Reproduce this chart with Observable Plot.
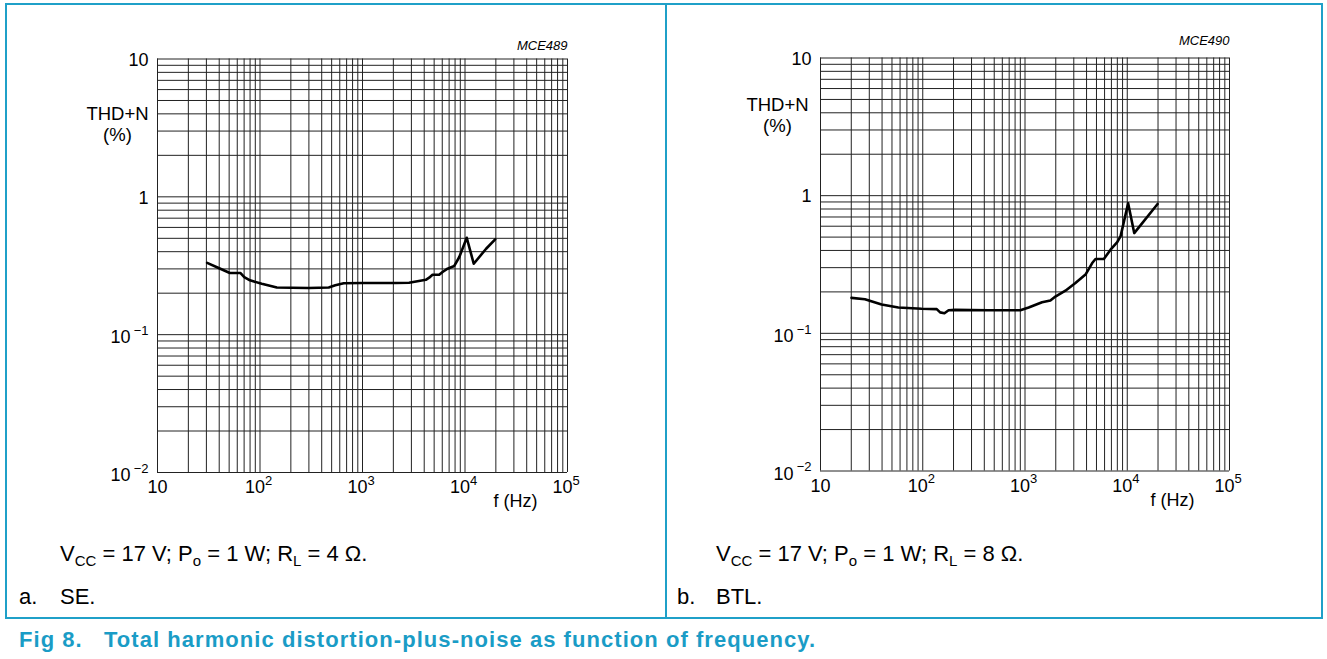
<!DOCTYPE html>
<html>
<head>
<meta charset="utf-8">
<script src="https://cdn.jsdelivr.net/npm/d3@7"></script>
<script src="https://cdn.jsdelivr.net/npm/@observablehq/plot@0.6"></script>
<style>
  body { margin: 0; background: #fff; }
  #page { position: relative; width: 1327px; height: 659px; overflow: hidden; background: #fff;
          font-family: "Liberation Sans", Arial, Helvetica, sans-serif; color: #000; }
  .ln { position: absolute; background: #1fa0c8; }
  .t { position: absolute; white-space: nowrap; font-size: 22px; line-height: 1; }
  .t sub { font-size: 15px; vertical-align: -5px; line-height: 0; }
  .cap { position: absolute; white-space: nowrap; font-size: 22px; font-weight: bold; color: #1a9cc6; line-height: 1; letter-spacing: 1.05px; }
  .chart { position: absolute; top: 0; }
</style>
</head>
<body>
<div id="page">
  <div class="ln" style="left:5px;top:3px;width:1318px;height:2px"></div>
  <div class="ln" style="left:5px;top:3px;width:2px;height:616px"></div>
  <div class="ln" style="left:665px;top:3px;width:2px;height:616px"></div>
  <div class="ln" style="left:1321px;top:3px;width:2px;height:616px"></div>
  <div class="ln" style="left:5px;top:617px;width:1318px;height:2px"></div>

  <div id="c1" class="chart" style="left:0px"></div>
  <div id="c2" class="chart" style="left:663px"></div>

  <div class="t" style="left:60px;top:543px">V<sub>CC</sub> = 17 V; P<sub>o</sub> = 1 W; R<sub>L</sub> = 4 Ω.</div>
  <div class="t" style="left:19px;top:586px">a.</div>
  <div class="t" style="left:60px;top:586px">SE.</div>
  <div class="t" style="left:716px;top:543px">V<sub>CC</sub> = 17 V; P<sub>o</sub> = 1 W; R<sub>L</sub> = 8 Ω.</div>
  <div class="t" style="left:677px;top:586px">b.</div>
  <div class="t" style="left:716px;top:586px">BTL.</div>

  <div class="cap" style="left:19px;top:629px">Fig 8.</div>
  <div class="cap" style="left:104px;top:629px">Total harmonic distortion-plus-noise as function of frequency.</div>
</div>
<script>
// ---- data ----
const seFreq = [30.5, 39, 50.8, 64.6, 70.2, 79.8, 104, 146, 204, 298, 468, 543, 656, 993, 2109, 2846, 4148, 4470, 4820, 5600, 6040, 6760, 7860, 8800, 10400, 12170, 16070, 19700];
const seThd  = [0.332, 0.306, 0.28, 0.28, 0.262, 0.248, 0.234, 0.220, 0.219, 0.218, 0.220, 0.228, 0.236, 0.237, 0.237, 0.238, 0.250, 0.259, 0.272, 0.272, 0.285, 0.301, 0.315, 0.366, 0.505, 0.327, 0.42, 0.491];

const btlFreq = [20.1, 27.2, 39.6, 57.7, 97.7, 137, 148, 163, 179, 207, 440, 900, 1086, 1468, 1771, 1983, 2485, 3113, 3906, 4540, 4893, 5906, 6866, 7985, 8610, 10200, 11700, 19800];
const btlThd  = [0.181, 0.177, 0.162, 0.154, 0.151, 0.150, 0.142, 0.140, 0.147, 0.148, 0.147, 0.147, 0.154, 0.168, 0.173, 0.185, 0.204, 0.232, 0.267, 0.324, 0.347, 0.347, 0.405, 0.459, 0.508, 0.88, 0.535, 0.87];

// tick labels
const xTickValues = [10, 100, 1000, 10000, 100000];
const xTickBase   = ["10", "10", "10", "10", "10"];
const xTickExp    = ["", "2", "3", "4", "5"];
const yTickValues = [10, 1, 0.1, 0.01];
const yTickBase   = ["10", "1", "10", "10"];
const yTickExp    = ["", "", "\u22121", "\u22122"];

// grid
const xDecades = [10, 100, 1000, 10000];
const yDecades = [0.01, 0.1, 1];
const gridMultipliers = [1, 2, 3, 4, 5, 6, 7, 8, 9];
const xGrid = xDecades.flatMap(d => gridMultipliers.map(m => m * d)).concat([100000]);
const yGrid = yDecades.flatMap(d => gridMultipliers.map(m => +(m * d).toPrecision(3))).concat([10]);

const xTicks = xTickValues.map((v, i) => ({v, base: xTickBase[i], exp: xTickExp[i]}));
const yTicks = yTickValues.map((v, i) => ({v, base: yTickBase[i], exp: yTickExp[i]}));

const FONT = "Liberation Sans, Arial, Helvetica, sans-serif";

function chart(freq, thd, o) {
  const pts = freq.map((f, i) => ({f, t: thd[i]}));
  const T = {lineAnchor: "middle", fill: "#000"};
  return Plot.plot({
    width: 660, height: 520,
    marginLeft: o.ml, marginRight: o.mr, marginTop: o.mt, marginBottom: o.mb,
    style: {fontFamily: FONT, fontSize: "18px", background: "transparent", color: "#000", overflow: "visible"},
    x: {type: "log", domain: [10, 100000], axis: null},
    y: {type: "log", domain: [0.01, 10], axis: null},
    marks: [
      Plot.ruleX(xGrid, {x: d => d, stroke: "#222", strokeWidth: 1}),
      Plot.ruleY(yGrid, {y: d => d, stroke: "#222", strokeWidth: 1}),
      Plot.line(pts, {x: "f", y: "t", stroke: "#000", strokeWidth: 2.6, strokeLinejoin: "round", strokeLinecap: "round"}),
      // x tick labels
      Plot.text(xTicks.filter(d => !d.exp), {...T, x: "v", text: "base", frameAnchor: "bottom", textAnchor: "middle", dy: 15, fontSize: 18}),
      Plot.text(xTicks.filter(d => d.exp), {...T, x: "v", text: "base", frameAnchor: "bottom", textAnchor: "end", dx: 5, dy: 15, fontSize: 18}),
      Plot.text(xTicks.filter(d => d.exp), {...T, x: "v", text: "exp", frameAnchor: "bottom", textAnchor: "start", dx: 5, dy: 8, fontSize: 13}),
      // y tick labels
      Plot.text(yTicks.filter(d => !d.exp), {...T, y: "v", text: "base", frameAnchor: "left", textAnchor: "end", dx: -9, dy: 1, fontSize: 18}),
      Plot.text(yTicks.filter(d => d.exp), {...T, y: "v", text: "base", frameAnchor: "left", textAnchor: "end", dx: -27, dy: 3, fontSize: 18}),
      Plot.text(yTicks.filter(d => d.exp), {...T, y: "v", text: "exp", frameAnchor: "left", textAnchor: "end", dx: -9, dy: -4, fontSize: 13}),
      // axis titles
      Plot.text([o.yLabel1], {...T, text: d => d, frameAnchor: "top-left", textAnchor: "middle", dx: o.ylx, dy: o.yly, fontSize: 18.5}),
      Plot.text([o.yLabel2], {...T, text: d => d, frameAnchor: "top-left", textAnchor: "middle", dx: o.ylx, dy: o.yly + 21, fontSize: 18.5}),
      Plot.text([o.xLabel], {...T, text: d => d, frameAnchor: "bottom-right", textAnchor: "middle", dx: o.xlx, dy: 29, fontSize: 18}),
      Plot.text([o.code], {...T, text: d => d, frameAnchor: "top-right", textAnchor: "end", dy: o.cdy, fontSize: 13, fontStyle: "italic"})
    ]
  });
}

document.getElementById("c1").appendChild(chart(seFreq, seThd, {
  ml: 157, mr: 93, mt: 58.5, mb: 48,
  yLabel1: "THD+N", yLabel2: "(%)", ylx: -40, yly: 55,
  xLabel: "f (Hz)", xlx: -52, code: "MCE489", cdy: -13
}));
document.getElementById("c2").appendChild(chart(btlFreq, btlThd, {
  ml: 157, mr: 94, mt: 57.5, mb: 49.5,
  yLabel1: "THD+N", yLabel2: "(%)", ylx: -43, yly: 47,
  xLabel: "f (Hz)", xlx: -57, code: "MCE490", cdy: -17
}));
</script>
</body>
</html>
